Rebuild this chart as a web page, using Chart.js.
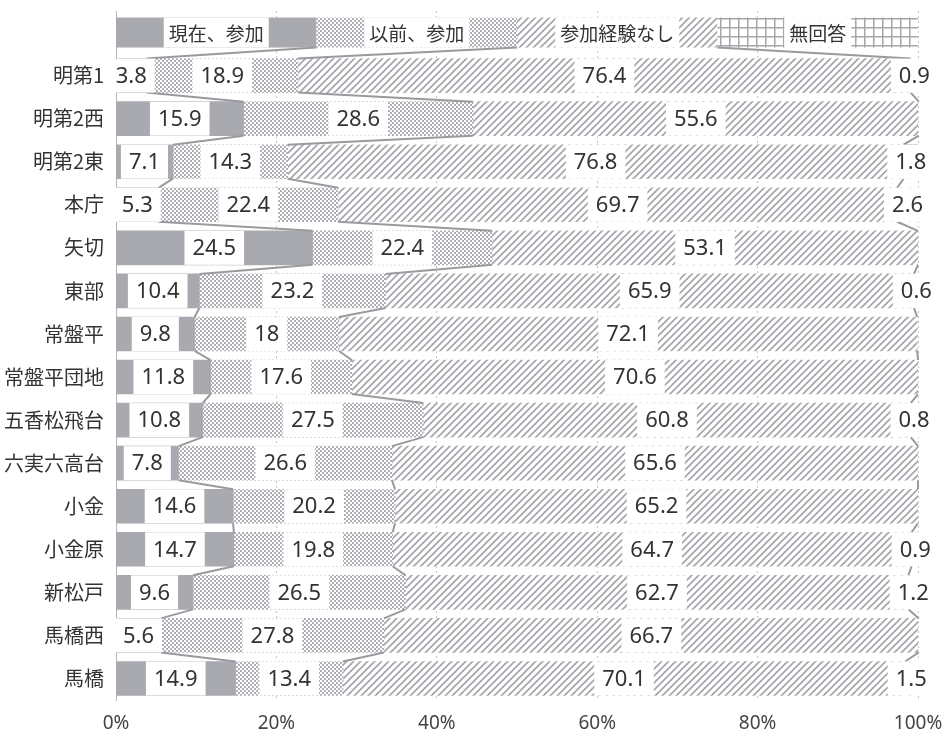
<!DOCTYPE html>
<html>
<head>
<meta charset="utf-8">
<script src="https://cdn.jsdelivr.net/npm/chart.js@4.4.1/dist/chart.umd.min.js"></script>
<style>
body{margin:0;background:#fff}
</style>
</head>
<body>
<canvas id="myChart" width="947" height="731"></canvas>
<script>
var areas = ['明第1','明第2西','明第2東','本庁','矢切','東部','常盤平','常盤平団地','五香松飛台','六実六高台','小金','小金原','新松戸','馬橋西','馬橋'];
var seriesNames = ['現在、参加','以前、参加','参加経験なし','無回答'];
var current  = [3.8,15.9,7.1,5.3,24.5,10.4,9.8,11.8,10.8,7.8,14.6,14.7,9.6,5.6,14.9];
var before   = [18.9,28.6,14.3,22.4,22.4,23.2,18,17.6,27.5,26.6,20.2,19.8,26.5,27.8,13.4];
var never    = [76.4,55.6,76.8,69.7,53.1,65.9,72.1,70.6,60.8,65.6,65.2,64.7,62.7,66.7,70.1];
var noAnswer = [0.9,null,1.8,2.6,null,0.6,null,null,0.8,null,null,0.9,1.2,null,1.5];
var xTicks = [0,20,40,60,80,100];

var gray = '#a9a9b0';
var lineGray = '#a6a6ac';
var textCol = '#333';
var barH = 34, legendH = 30;

function tile(w, h, draw){
    var c = document.createElement('canvas');
    c.width = w; c.height = h;
    var t = c.getContext('2d');
    t.fillStyle = '#fff'; t.fillRect(0,0,w,h);
    draw(t);
    return document.getElementById('myChart').getContext('2d').createPattern(c,'repeat');
}

var dots = tile(4,4,function(t){
    t.fillStyle = gray; t.fillRect(0,0,4,4);
    t.fillStyle = '#fff';
    t.beginPath(); t.arc(1,1,1.25,0,Math.PI*2); t.fill();
    t.beginPath(); t.arc(3,3,1.25,0,Math.PI*2); t.fill();
});
var hatch = tile(7,7,function(t){
    t.strokeStyle = lineGray; t.lineWidth = 1.7;
    t.beginPath();
    t.moveTo(-1,8); t.lineTo(8,-1);
    t.moveTo(-4,4); t.lineTo(4,-4);
    t.moveTo(3,11); t.lineTo(11,3);
    t.stroke();
});
var grid = tile(9,9,function(t){
    t.fillStyle = lineGray;
    t.fillRect(0,0,1.5,9);
    t.fillRect(0,0,9,1.5);
});
var fills = [gray, dots, hatch, grid];
var series = [current, before, never, noAnswer];

function cumAt(row, k){
    // row 0 is the legend row, 25% each
    if(row==0) return k*25;
    var s=0;
    for(var j=0;j<k;j++) s += series[j][row-1] || 0;
    return s;
}

function labelBox(ctx, txt, cx, cy, h, pad){
    var w = ctx.measureText(txt).width + pad*2;
    ctx.fillStyle = '#fff';
    ctx.fillRect(cx-w/2, cy-h/2, w, h);
    ctx.fillStyle = textCol;
    ctx.fillText(txt, cx, cy+1);
}

var overlay = {
    id: 'overlay',
    afterDatasetsDraw: function(chart){
        var ctx = chart.ctx, xs = chart.scales.x, ys = chart.scales.y;
        ctx.save();
        // legend row drawn as a bar of four equal parts
        var y0 = ys.getPixelForValue(0);
        for(var k=0;k<4;k++){
            var a = xs.getPixelForValue(k*25), b = xs.getPixelForValue(k*25+25);
            ctx.fillStyle = fills[k];
            ctx.fillRect(a, y0-legendH/2, b-a, legendH);
        }
        // series lines
        ctx.strokeStyle = '#9a9a9e'; ctx.lineWidth = 2;
        for(var r=0;r<areas.length;r++){
            var h1 = r==0 ? legendH : barH;
            var yA = ys.getPixelForValue(r) + h1/2;
            var yB = ys.getPixelForValue(r+1) - barH/2;
            for(var k=1;k<4;k++){
                ctx.beginPath();
                ctx.moveTo(xs.getPixelForValue(cumAt(r,k)), yA);
                ctx.lineTo(xs.getPixelForValue(cumAt(r+1,k)), yB);
                ctx.stroke();
            }
        }
        ctx.textAlign = 'center'; ctx.textBaseline = 'middle';
        ctx.font = "19px 'Noto Sans CJK JP'";
        for(var k=0;k<4;k++){
            labelBox(ctx, seriesNames[k], xs.getPixelForValue(k*25+12.5), y0, legendH, 5);
        }
        ctx.font = "22px 'Noto Sans', 'Noto Sans CJK JP'";
        for(var r=1;r<=areas.length;r++){
            var yc = ys.getPixelForValue(r);
            for(var k=0;k<4;k++){
                var v = series[k][r-1];
                if(!v) continue;
                var c = cumAt(r,k) + v/2;
                labelBox(ctx, String(v), xs.getPixelForValue(c), yc, barH, 8);
            }
        }
        ctx.restore();
    }
};

var ctx = document.getElementById('myChart').getContext('2d');
var chart = new Chart(ctx, {
    type: 'bar',
    data: {
        labels: [''].concat(areas),
        datasets: series.map(function(s,k){
            return {
                label: seriesNames[k],
                data: [null].concat(s),
                backgroundColor: fills[k],
                borderWidth: 0,
                barThickness: barH
            };
        })
    },
    options: {
        indexAxis: 'y',
        responsive: false,
        animation: false,
        layout: {padding: {top: 11, right: 29, bottom: 0, left: 0}},
        plugins: {legend: {display: false}, tooltip: {enabled: false}},
        scales: {
            x: {
                stacked: true, min: 0, max: 100,
                afterBuildTicks: function(s){ s.ticks = xTicks.map(function(v){ return {value: v}; }); },
                afterFit: function(s){ s.height = 31; s.paddingLeft = 0; s.paddingRight = 0; },
                grid: {color: '#c4c4c4', lineWidth: 1, drawTicks: false},
                border: {display: false, dash: [2,3]},
                ticks: {padding: 12, color: '#444', font: {family: "'Noto Sans'", size: 19},
                    callback: function(v){ return v + '%'; }}
            },
            y: {
                stacked: true,
                afterFit: function(s){ s.width = 116; s.paddingTop = 0; s.paddingBottom = 0; },
                grid: {display: false, drawTicks: false},
                border: {display: true, color: '#b4b4b4', width: 1},
                ticks: {padding: 12, color: textCol, font: {family: "'Noto Sans CJK JP'", size: 20}}
            }
        }
    },
    plugins: [overlay]
});
</script>
</body>
</html>
